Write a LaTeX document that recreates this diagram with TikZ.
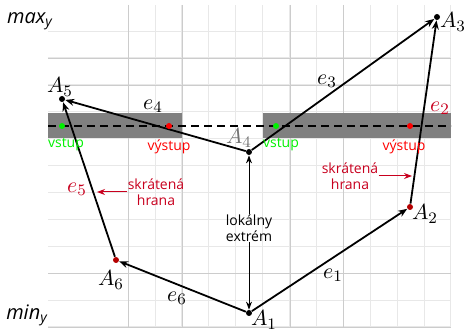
\documentclass[tikz,border=0pt]{standalone}
\usepackage{fontspec}
\newfontfamily\osans{Open Sans}
\usetikzlibrary{arrows.meta}
\definecolor{skred}{RGB}{200,0,30}
\definecolor{outred}{RGB}{255,0,0}
\definecolor{dotred}{RGB}{180,0,0}
\definecolor{ingreen}{RGB}{0,240,0}
\definecolor{band}{RGB}{128,128,128}
\tikzset{
  gridl/.style={draw=gray!18,line width=0.4pt},
  gridd/.style={draw=gray!40,line width=0.4pt},
  vdot/.style={circle,fill=black,inner sep=0pt,minimum size=3pt},
  edge/.style={line width=0.9pt,-{Stealth[length=4.5pt,width=3.5pt]}},
  thinarr/.style={line width=0.5pt,-{Stealth[length=4pt,width=3pt]}},
  mlab/.style={inner sep=0pt,font=\fontsize{11}{13}\selectfont},
  slab/.style={inner sep=0pt,align=center,font=\osans\fontsize{7}{8}\selectfont},
  axlab/.style={inner sep=0pt,font=\osans\itshape\fontsize{10}{12}\selectfont},
}
\begin{document}
\begin{tikzpicture}[x=0.5pt,y=-0.5pt]
\useasboundingbox (0,0) rectangle (465,330);
% grid
\foreach \i in {0,...,11} \draw[gridl] (48,{31+26.9*\i}) -- (451,{31+26.9*\i});
\foreach \i in {0,...,12} \draw[gridl] ({128+26.9*\i},5) -- ({128+26.9*\i},327);
\foreach \x in {128,182,290,343} \draw[gridd] (\x,5) -- (\x,327);
\foreach \y in {58,85,273,327} \draw[gridd] (48,\y) -- (451,\y);
% scan band
\fill[band] (48,113) rectangle (182,138);
\fill[band] (263,113) rectangle (451,138);
\draw[dashed,line width=0.7pt,dash pattern=on 4pt off 2.5pt] (48,126) -- (451,126);
% vertices
\node[vdot] (A1) at (249,313) {};
\node[vdot,fill=dotred] (A2) at (410,207) {};
\node[vdot] (A3) at (437,17) {};
\node[vdot] (A4) at (249,152) {};
\node[vdot] (A5) at (62,99) {};
\node[vdot,fill=dotred] (A6) at (116,260) {};
% edges
\draw[edge] (A1) -- (A2);
\draw[edge] (A2) -- (A3);
\draw[edge] (A4) -- (A3);
\draw[edge] (A4) -- (A5);
\draw[edge] (A6) -- (A5);
\draw[edge] (A1) -- (A6);
% intersection points
\node[vdot,fill=ingreen] (p1) at (62,126) {};
\node[vdot,fill=outred] (p2) at (169,126) {};
\node[vdot,fill=ingreen] (p3) at (276,126) {};
\node[vdot,fill=outred] (p4) at (410,126) {};
\node[slab,text=ingreen] (v1) at (66,145) {vstup};
\node[slab,text=outred] (o1) at (169,147) {výstup};
\node[slab,text=ingreen] (v2) at (281,145) {vstup};
\node[slab,text=outred] (o2) at (404,147) {výstup};
% vertex labels
\node[mlab] (lA1) at (264,320) {$A_1$};
\node[mlab] (lA2) at (425,214) {$A_2$};
\node[mlab] (lA3) at (453,22) {$A_3$};
\node[mlab,text=gray!90!black] (lA4) at (239,138) {$A_4$};
\node[mlab] (lA5) at (60,87) {$A_5$};
\node[mlab] (lA6) at (111,280) {$A_6$};
% edge labels
\node[mlab] (le1) at (333,275) {$e_1$};
\node[mlab,text=skred] (le2) at (440,108) {$e_2$};
\node[mlab] (le3) at (327,81) {$e_3$};
\node[mlab] (le4) at (153,106) {$e_4$};
\node[mlab,text=skred] (le5) at (77,189) {$e_5$};
\node[mlab] (le6) at (177,298) {$e_6$};
% axis labels
\node[axlab] (mx) at (30,21) {max\textsubscript{y}};
\node[axlab] (mn) at (27,315) {min\textsubscript{y}};
% local extreme
\node[slab] (ext) at (249,228) {lokálny\\extrém};
\draw[thinarr] (ext) -- (A4);
\draw[thinarr] (ext) -- (A1);
% shortened edges
\node[slab,text=skred] (sh1) at (156,192) {skrátená\\hrana};
\coordinate (t1) at (97,192);
\draw[thinarr,draw=skred] (sh1.west) -- (t1);
\node[slab,text=skred] (sh2) at (350,176) {skrátená\\hrana};
\coordinate (t2) at (412,176);
\draw[thinarr,draw=skred] (sh2.east) -- (t2);
\end{tikzpicture}
\end{document}
